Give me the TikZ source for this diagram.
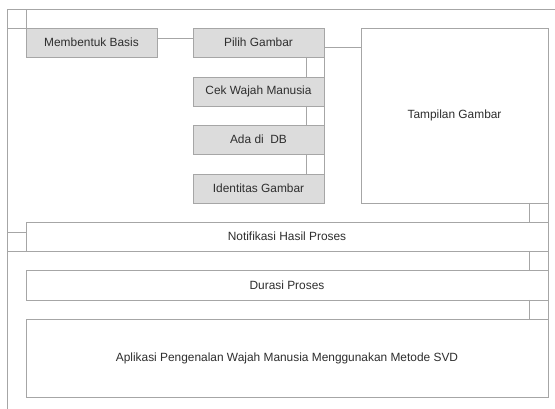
\documentclass[tikz,border=0pt]{standalone}
\usepackage{fontspec}
\setmainfont{Liberation Sans}
\definecolor{ln}{HTML}{A6A6A6}
\definecolor{gb}{HTML}{DCDCDC}
\definecolor{tx}{HTML}{2E2E2E}
\begin{document}
\begin{tikzpicture}[x=1pt,y=-1pt,
  every node/.style={inner sep=0pt,outer sep=0pt,font=\fontsize{11.9}{14}\selectfont,text=tx},
  graybox/.style={draw=ln,fill=gb,line width=0.8pt},
  whitebox/.style={draw=ln,fill=white,line width=0.8pt},
  conn/.style={draw=ln,line width=0.8pt}]
\useasboundingbox (0,0) rectangle (555,409);
\coordinate (ftl) at (7,9);
\coordinate (ftr) at (555,9);
\coordinate (fbl) at (7,409);
\draw[conn] (ftr) -- (ftl) -- (fbl);
% gray boxes
\node[graybox,minimum width=131pt,minimum height=29pt] (mb) at (91.5,42.5) {Membentuk Basis};
\node[graybox,minimum width=131pt,minimum height=29pt] (pg) at (258.5,42.5) {Pilih Gambar};
\node[graybox,minimum width=131pt,minimum height=29pt] (cw) at (258.5,91.5) {Cek Wajah Manusia};
\node[graybox,minimum width=131pt,minimum height=29pt] (db) at (258.5,139.5) {Ada di\ \ DB};
\node[graybox,minimum width=131pt,minimum height=29pt] (ig) at (258.5,188.5) {Identitas Gambar};
% white boxes
\node[whitebox,minimum width=187pt,minimum height=175pt] (tg) at (454.5,115.5) {Tampilan Gambar};
\node[whitebox,minimum width=522pt,minimum height=29pt] (nh) at (287,236.5) {Notifikasi Hasil Proses};
\node[whitebox,minimum width=522pt,minimum height=30pt] (dp) at (287,285) {Durasi Proses};
\node[whitebox,minimum width=522pt,minimum height=78pt] (ap) at (287,358) {Aplikasi Pengenalan Wajah Manusia Menggunakan Metode SVD};
% connectors
\draw[conn] (mb.north west) -- (mb.north west -| ftl);
\draw[conn] (mb.north west) -- (mb.north west |- ftl);
\draw[conn] (mb.east |- 0,38) -- (pg.west |- 0,38);
\draw[conn] (pg.east |- 0,47) -- (tg.west |- 0,47);
\foreach \a/\b in {pg/cw,cw/db,db/ig}{
  \draw[conn] (\a.south -| 306,0) -- (\b.north -| 306,0);
  \draw[conn] (\a.south east) -- (\b.north east);
}
\foreach \a/\b in {tg/nh,nh/dp,dp/ap}{
  \draw[conn] (\a.south -| 529,0) -- (\b.north -| 529,0);
  \draw[conn] (\a.south east) -- (\b.north east);
}
\draw[conn] (nh.south west) -- (nh.south west -| ftl);
\draw[conn] (nh.west |- 0,232) -- (ftl |- 0,232);
\end{tikzpicture}
\end{document}
